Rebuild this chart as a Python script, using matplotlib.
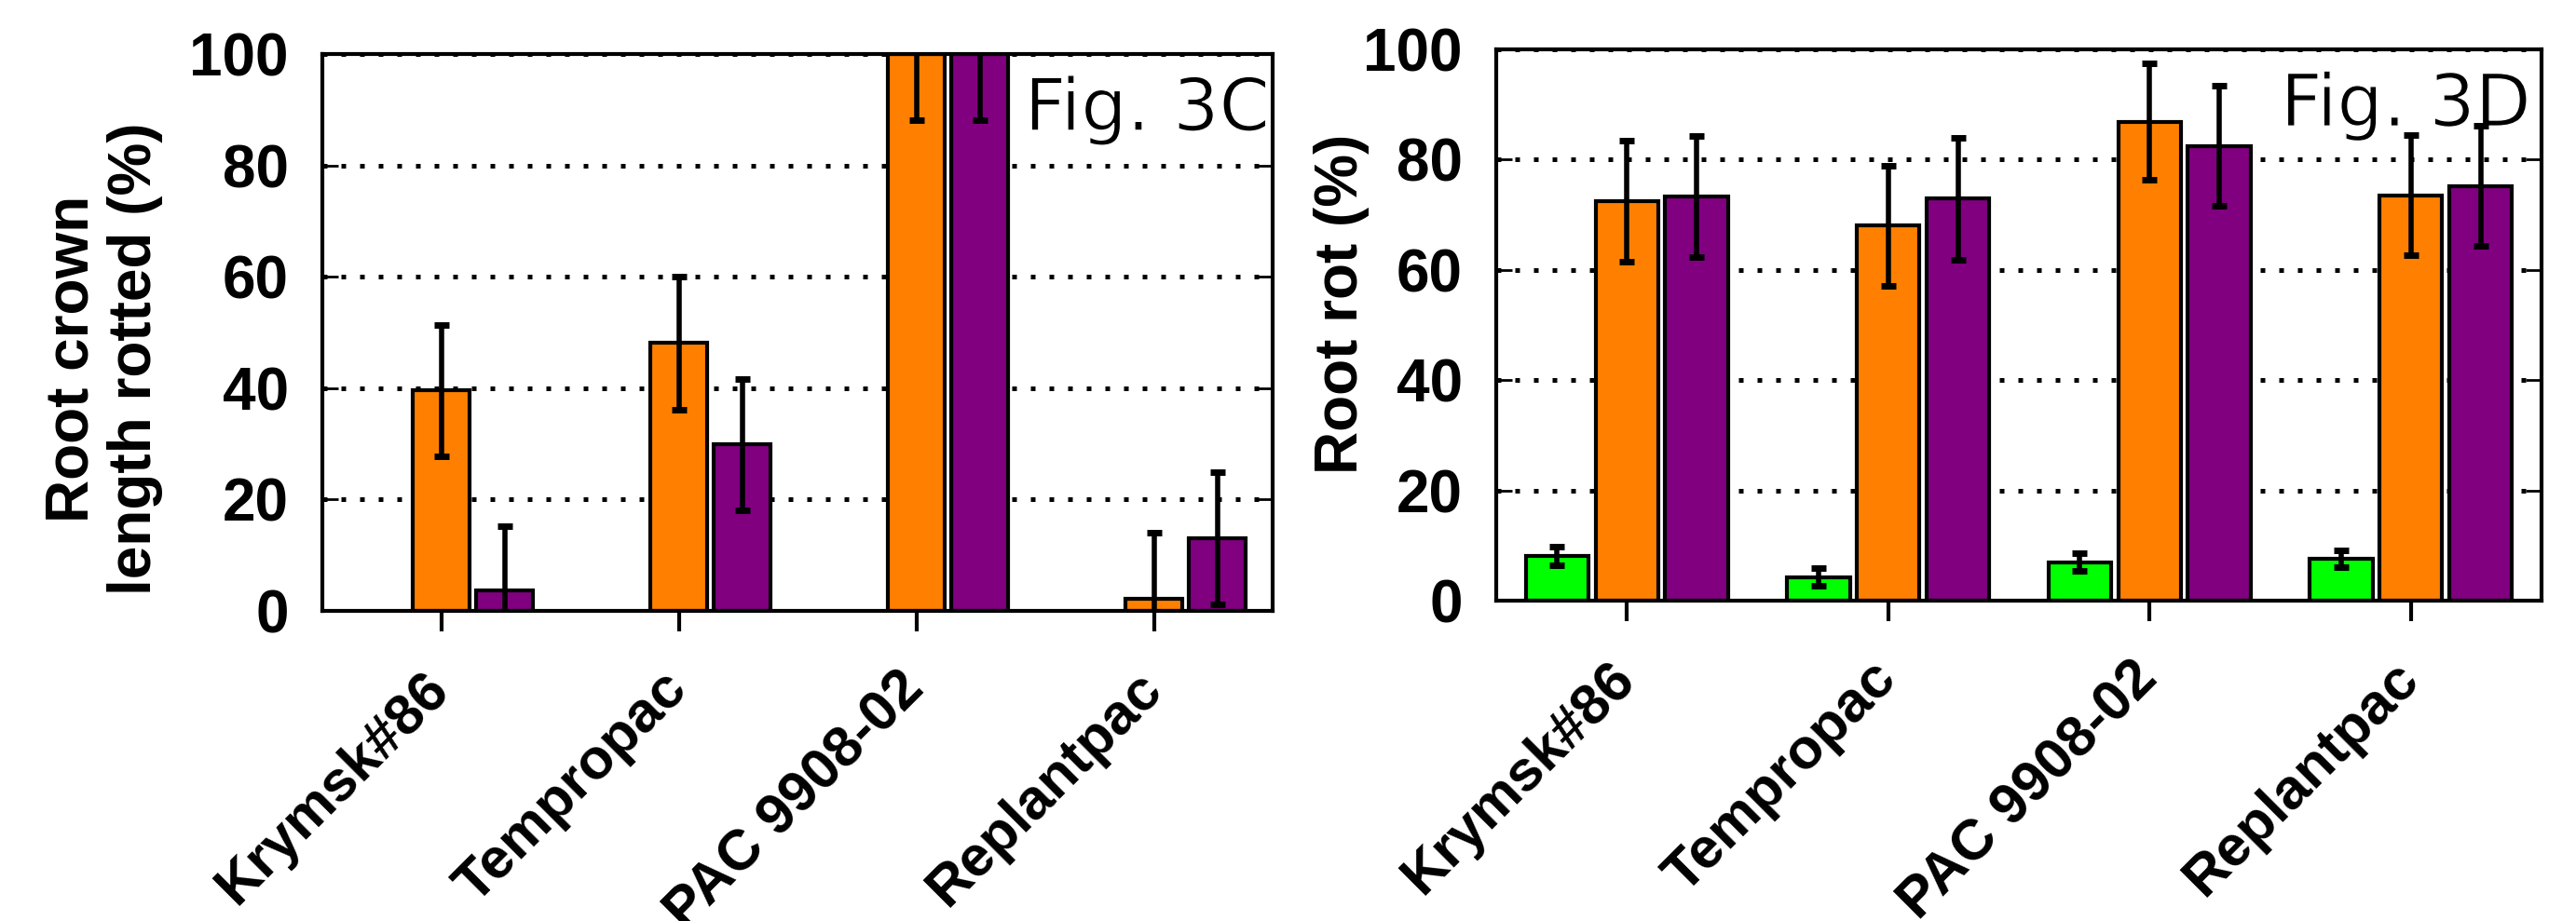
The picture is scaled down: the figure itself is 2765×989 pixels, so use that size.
import numpy as np
import matplotlib
matplotlib.use('Agg')
import matplotlib.pyplot as plt
import matplotlib.patheffects as pe

plt.rcParams['font.family'] = ['Liberation Sans', 'DejaVu Sans']

# data
cultivars = ['Krymsk#86', 'Tempropac', 'PAC 9908-02', 'Replantpac']

# Fig. 3C - root crown length rotted (%)
c_orange = [39.6, 48.1, 100.0, 2.2]
c_orange_err = [11.8, 12.0, 11.8, 11.8]
c_purple = [3.6, 29.9, 100.0, 13.0]
c_purple_err = [11.7, 11.8, 11.8, 11.9]

# Fig. 3D - root rot (%)
d_green = [8.1, 4.3, 7.0, 7.6]
d_green_err = [1.7, 1.6, 1.6, 1.55]
d_orange = [72.5, 68.0, 86.9, 73.5]
d_orange_err = [11.0, 10.9, 10.5, 10.9]
d_purple = [73.3, 72.9, 82.5, 75.2]
d_purple_err = [11.0, 11.0, 10.9, 10.9]

GREEN, ORANGE, PURPLE = '#00FF00', '#FF8000', '#800080'
W, H = 2765, 989
fig = plt.figure(figsize=(W / 100, H / 100), dpi=100)
ax1 = fig.add_axes([346 / W, 1 - 656 / H, 1020 / W, 598 / H])
ax2 = fig.add_axes([1606 / W, 1 - 645 / H, 1122 / W, 592 / H])

x = np.arange(len(cultivars))
off = 0.267
bw = 0.24


def draw_bars(ax, pos, vals, err, color):
    ax.bar(pos, vals, width=bw, color=color, edgecolor='black', linewidth=3, zorder=2)
    ax.errorbar(pos, vals, yerr=err, fmt='none', ecolor='black', elinewidth=4,
                capsize=5.5, capthick=5, zorder=4)


draw_bars(ax1, x, c_orange, c_orange_err, ORANGE)
draw_bars(ax1, x + off, c_purple, c_purple_err, PURPLE)

draw_bars(ax2, x - off, d_green, d_green_err, GREEN)
draw_bars(ax2, x, d_orange, d_orange_err, ORANGE)
draw_bars(ax2, x + off, d_purple, d_purple_err, PURPLE)

for ax in (ax1, ax2):
    ax.set_xlim(-0.5, 3.5)
    ax.set_ylim(0, 100)
    ax.set_yticks([0, 20, 40, 60, 80, 100])
    ax.set_xticks(x)
    ax.set_xticklabels(cultivars, rotation=45, ha='right', va='center',
                       rotation_mode='anchor', fontsize=44, fontweight='bold')
    for lab in ax.get_yticklabels():
        lab.set_fontsize(46)
        lab.set_fontweight('bold')
    ax.tick_params(axis='y', direction='in', length=12, width=2, left=True, right=True, pad=26)
    ax.tick_params(axis='x', direction='out', length=16, width=3, pad=38)
    ax.yaxis.grid(True, linestyle=(0, (1, 3)), linewidth=3.6, color='black')
    ax.set_axisbelow(True)
    for sp in ax.spines.values():
        sp.set_linewidth(3)
        sp.set_zorder(5)

ax1.set_ylabel('Root crown\nlength rotted (%)', fontsize=46, fontweight='bold', linespacing=1.15)
ax1.yaxis.set_label_coords(-0.168, 0.453)
ax2.set_ylabel('Root rot (%)', fontsize=46, fontweight='bold')
ax2.yaxis.set_label_coords(-0.121, 0.539)

# thin the regular face slightly with a white outline drawn on top
thin = [pe.Normal(), pe.Stroke(linewidth=1.0, foreground='white')]
ax1.text(0.997, 0.863, 'Fig. 3C', transform=ax1.transAxes, ha='right', va='baseline',
         fontsize=56, family='DejaVu Sans', zorder=3, path_effects=thin)
ax2.text(0.990, 0.861, 'Fig. 3D', transform=ax2.transAxes, ha='right', va='baseline',
         fontsize=56, family='DejaVu Sans', zorder=3, path_effects=thin)

fig.savefig('out.png', dpi=100)
